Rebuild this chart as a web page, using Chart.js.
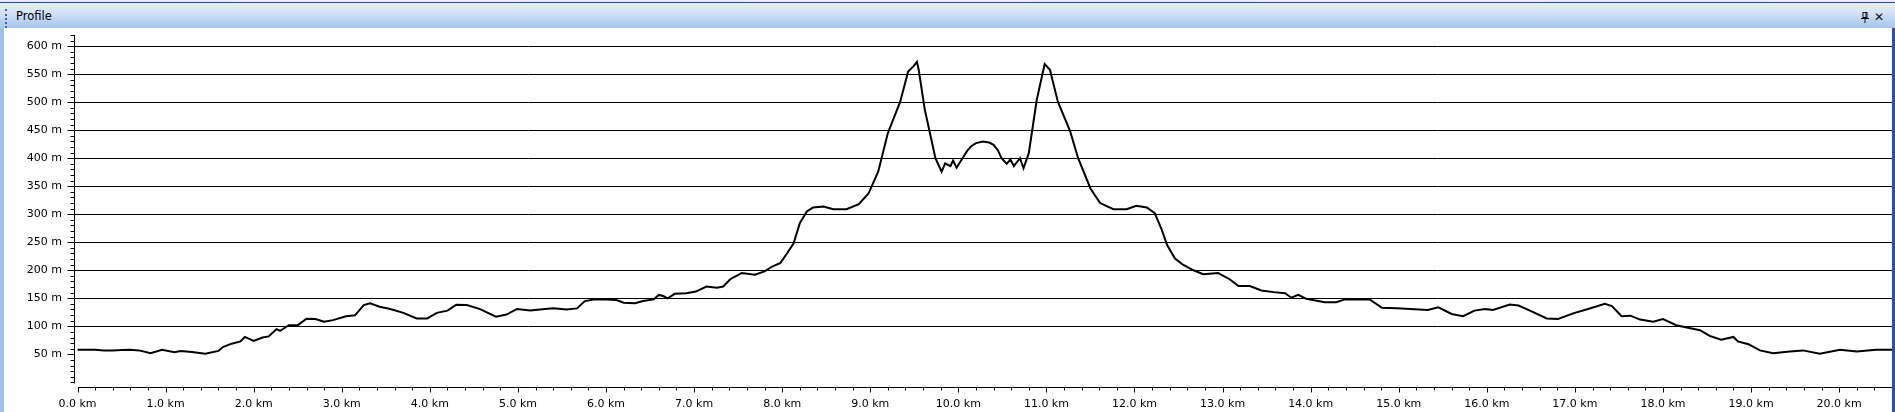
<!DOCTYPE html>
<html>
<head>
<meta charset="utf-8">
<script src="https://cdn.jsdelivr.net/npm/chart.js@4/dist/chart.umd.min.js"></script>
<style>
  html, body { margin: 0; padding: 0; }
  body { width: 1895px; height: 412px; position: relative; overflow: hidden; background: #fff; font-family: 'DejaVu Sans', sans-serif; }
  #strip { position: absolute; left: 0; top: 0; width: 1895px; height: 2px; background: #e8ecf2; }
  #stripLine { position: absolute; left: 0; top: 2px; width: 1895px; height: 1px; background: #2a4a8a; }
  #bar { position: absolute; left: 0; top: 3px; width: 1895px; height: 25px; background: linear-gradient(#e6effb, #cfe0f6 45%, #b9d2f1 70%, #a9c6ec); }
  #grip { position: absolute; left: 5px; top: 6px; height: 19px; border-left: 2px dotted #3d63a6; }
  #title { position: absolute; left: 16px; top: 6px; font-size: 11.5px; color: #000; }
  #pin { position: absolute; left: 1861px; top: 9px; }
  #close { position: absolute; left: 1874px; top: 7px; font-size: 12px; font-weight: bold; color: #111; }
  #lborder { position: absolute; left: 0; top: 28px; width: 4px; height: 384px; background: #a2bfe4; }
  #rborder { position: absolute; left: 1892px; top: 28px; width: 3px; height: 384px; background: #1f4fc0; }
  #wrap { position: absolute; left: 5px; top: 28px; width: 1887px; height: 384px; }
</style>
</head>
<body>
<div id="strip"></div><div id="stripLine"></div>
<div id="bar">
  <div id="grip"></div>
  <div id="title">Profile</div>
  <svg id="pin" width="8" height="11" viewBox="0 0 8 11"><rect x="2" y="0.5" width="4" height="5" fill="none" stroke="#111"/><line x1="5" y1="1" x2="5" y2="5" stroke="#111"/><line x1="0" y1="6.5" x2="8" y2="6.5" stroke="#111"/><line x1="4" y1="7" x2="4" y2="11" stroke="#111"/></svg>
  <div id="close">✕</div>
</div>
<div id="lborder"></div>
<div id="rborder"></div>
<div id="wrap"><canvas id="c"></canvas></div>
<script>
'use strict';
const DIST_KM = [0, 0.1, 0.2, 0.3, 0.4, 0.5, 0.6, 0.7, 0.83, 0.96, 1.1, 1.17, 1.3, 1.45, 1.6, 1.65, 1.75, 1.85, 1.9, 2.0,
  2.1, 2.17, 2.26, 2.3, 2.4, 2.5, 2.6, 2.7, 2.8, 2.9, 3.05, 3.15, 3.25, 3.32, 3.43, 3.55, 3.7, 3.85, 3.97, 4.08,
  4.2, 4.3, 4.42, 4.57, 4.75, 4.87, 4.99, 5.14, 5.25, 5.4, 5.55, 5.67, 5.76, 5.86, 6.0, 6.12, 6.2, 6.33, 6.42, 6.54,
  6.6, 6.65, 6.7, 6.78, 6.91, 7.02, 7.14, 7.26, 7.33, 7.41, 7.54, 7.69, 7.8, 7.88, 7.98, 8.05, 8.13, 8.2, 8.28, 8.35,
  8.47, 8.58, 8.73, 8.87, 8.98, 9.09, 9.2, 9.34, 9.43, 9.49, 9.53, 9.55, 9.62, 9.74, 9.81, 9.85, 9.91, 9.94, 9.98, 10.06,
  10.1, 10.15, 10.2, 10.28, 10.35, 10.4, 10.45, 10.49, 10.55, 10.59, 10.63, 10.7, 10.74, 10.8, 10.89, 10.98, 11.04, 11.13, 11.27, 11.36,
  11.5, 11.61, 11.76, 11.91, 12.02, 12.14, 12.23, 12.31, 12.37, 12.46, 12.55, 12.67, 12.78, 12.95, 13.08, 13.18, 13.31, 13.44, 13.58, 13.71,
  13.78, 13.86, 13.95, 14.16, 14.29, 14.39, 14.67, 14.81, 14.98, 15.13, 15.33, 15.45, 15.6, 15.73, 15.86, 15.98, 16.07, 16.26, 16.36, 16.49,
  16.68, 16.81, 16.98, 17.15, 17.34, 17.42, 17.53, 17.63, 17.74, 17.89, 18.0, 18.15, 18.27, 18.42, 18.53, 18.66, 18.8, 18.85, 18.97, 19.1,
  19.25, 19.44, 19.59, 19.78, 20.01, 20.2, 20.42, 20.6];
const ELEV_M = [58, 58, 58, 57, 57, 57.5, 58, 57, 52, 58, 53.5, 56, 54, 51, 56, 63, 69, 73, 81, 74,
  80, 82, 95, 92, 102, 102, 113.6, 113, 108, 111, 118, 119.6, 138, 141, 135, 131, 124, 114, 114, 124,
  128, 138.6, 138, 130.6, 117, 121, 131, 128, 130, 132, 130, 132, 145, 148, 148, 147, 142, 141, 145, 148,
  156, 154, 150, 158, 159, 162, 171, 169, 171, 184, 195, 192, 198, 206, 213, 229, 248, 284, 305, 312,
  314, 309, 309, 318, 337, 376, 445, 501, 555, 564, 572, 558, 486, 400, 376, 391, 386, 396, 383, 403,
  413, 422, 427, 430, 428, 424, 414, 400, 390, 398, 386, 400, 382, 409, 504, 568, 558, 501, 448, 400,
  346, 320, 309, 309, 315, 312, 302, 272, 245, 221, 210, 200, 193, 195, 184, 172, 172, 164, 161, 159,
  151, 156, 149, 143, 143, 148, 148, 133, 132, 131, 129, 134, 122, 118, 128, 131, 129, 139, 137, 128,
  114, 113, 123, 131, 140, 136, 118, 119, 112, 108, 113, 102, 98, 93, 83, 76, 81, 73, 68, 57,
  52, 55, 57, 51, 58, 55, 58, 58];
const X_TICKS = [0, 1, 2, 3, 4, 5, 6, 7, 8, 9, 10, 11, 12, 13, 14, 15, 16, 17, 18, 19, 20];
const Y_TICKS = [50, 100, 150, 200, 250, 300, 350, 400, 450, 500, 550, 600];
const X_MIN = -0.04, X_MAX = 20.6, Y_MIN = -8, Y_MAX = 620;
const FONT = { family: "'DejaVu Sans', sans-serif", size: 11 };

// axes dessinés à la main (graduations majeures + mineures, axes disjoints)
const axisTicks = {
  id: 'axisTicks',
  afterDraw(chart) {
    const { ctx, chartArea: a, scales: { x, y } } = chart;
    ctx.save();
    ctx.strokeStyle = '#000'; ctx.lineWidth = 1;
    ctx.beginPath();
    const ax = Math.round(a.left) + 0.5;
    ctx.moveTo(ax, a.top); ctx.lineTo(ax, y.getPixelForValue(-2));
    for (let v = 0; v <= Y_MAX; v += 10) {
      const py = Math.round(y.getPixelForValue(v)) + 0.5, len = Y_TICKS.includes(v) ? 7 : 4;
      ctx.moveTo(ax - len, py); ctx.lineTo(ax, py);
    }
    const by = Math.round(a.bottom) + 0.5;
    ctx.moveTo(Math.round(x.getPixelForValue(0)), by); ctx.lineTo(a.right, by);
    for (let i = 0; i / 5 <= X_MAX; i++) {
      const px = Math.round(x.getPixelForValue(i / 5)) + 0.5, len = i % 5 === 0 ? 5 : 3;
      ctx.moveTo(px, by); ctx.lineTo(px, by + len);
    }
    ctx.stroke();
    ctx.restore();
  }
};

new Chart(document.getElementById('c').getContext('2d'), {
  type: 'line',
  data: { datasets: [{ data: DIST_KM.map((d, i) => ({ x: d, y: ELEV_M[i] })), borderColor: '#000', borderWidth: 2, pointRadius: 0, tension: 0, fill: false }] },
  options: {
    responsive: true, maintainAspectRatio: false, animation: false,
    layout: { padding: { top: 7, right: 0, left: 0, bottom: 0 } },
    plugins: { legend: { display: false }, tooltip: { enabled: false } },
    scales: {
      x: {
        type: 'linear', min: X_MIN, max: X_MAX,
        afterBuildTicks: s => { s.ticks = X_TICKS.map(v => ({ value: v })); },
        afterFit: s => { s.height = 25.2; s.paddingLeft = 0; s.paddingRight = 0; },
        grid: { display: false }, border: { display: false },
        ticks: { autoSkip: false, maxRotation: 0, padding: 3, color: '#000', font: FONT, callback: v => v.toFixed(1) + ' km' }
      },
      y: {
        min: Y_MIN, max: Y_MAX,
        afterBuildTicks: s => { s.ticks = Y_TICKS.map(v => ({ value: v })); },
        afterFit: s => { s.width = 69; s.paddingTop = 0; s.paddingBottom = 0; },
        grid: { drawTicks: false, lineWidth: 1, color: c => (c.tick && c.tick.value >= 100 ? '#000' : 'rgba(0,0,0,0)') },
        border: { display: false },
        ticks: { padding: 12, color: '#000', font: FONT, callback: v => v + ' m' }
      }
    }
  },
  plugins: [axisTicks]
});
</script>
</body>
</html>
